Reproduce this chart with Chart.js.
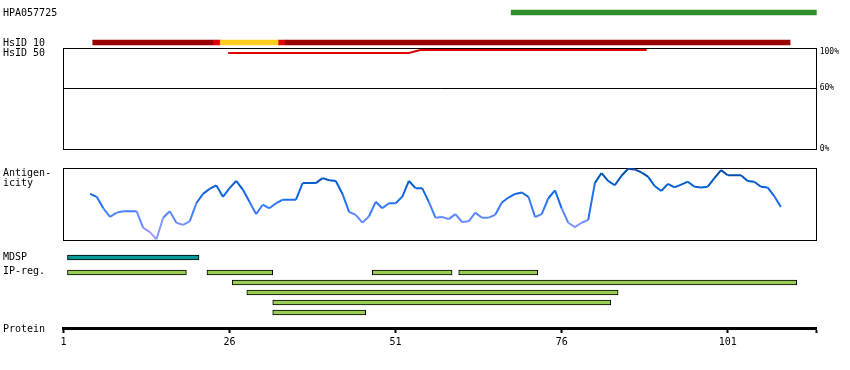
<!DOCTYPE html>
<html>
<head>
<meta charset="utf-8">
<title>HPA057725</title>
<script src="https://cdn.jsdelivr.net/npm/chart.js@4.4.1/dist/chart.umd.min.js"></script>
<style>
  html, body { margin: 0; padding: 0; background: #fff; }
  #wrap { position: relative; width: 850px; height: 370px; }
  #wrap canvas { position: absolute; left: 0; }
</style>
</head>
<body>
<div id="wrap">
  <canvas id="top" width="850" height="48" style="top:0px"></canvas>
  <canvas id="hsid50" width="850" height="118" style="top:40px"></canvas>
  <canvas id="antigen" width="850" height="90" style="top:160px"></canvas>
  <canvas id="mdsp" width="850" height="15" style="top:250px"></canvas>
  <canvas id="ipreg" width="850" height="55" style="top:265px"></canvas>
  <canvas id="protein" width="850" height="40" style="top:318px"></canvas>
</div>
<script>
// protein coordinate range and axis ticks
const xMin = 1, xMax = 114.4;
const axisTicks = [1, 26, 51, 76, 101];

// antibody target region
const hpaStart = [68.4];
const hpaEnd = [114.4];

// HsID 10 segments
const hsid10Start = [5.4, 23.6, 24.6, 33.4, 34.4];
const hsid10End = [23.6, 24.6, 33.4, 34.4, 110.4];
const hsid10Level = ['low', 'mid', 'high', 'mid', 'low'];

// HsID 50 identity line (%)
const hsid50X = [25.8, 53.0, 54.7, 88.8];
const hsid50Y = [95, 95, 98, 98];
const hsid50Ticks = [0, 60, 100];

// antigenicity score per residue, starting at residue 5
const antigenFirst = 5;
const antigenicity = [
  64, 60, 44, 32, 38, 40, 40, 40, 17, 11,
  1, 31, 40, 24, 21, 26, 51, 64, 71, 76,
  60, 72, 82, 70, 53, 36, 49, 44, 51, 56,
  56, 56, 79, 79, 79, 86, 83, 82, 64, 39,
  35, 24, 33, 53, 44, 51, 51, 60, 82, 72,
  72, 53, 31, 32, 29, 36, 25, 26, 38, 31,
  31, 35, 52, 59, 64, 66, 60, 32, 36, 58,
  69, 44, 24, 18, 24, 28, 79, 93, 82, 76,
  89, 99, 98, 94, 88, 75, 68, 78, 73, 77,
  81, 74, 73, 74, 86, 97, 90, 90, 90, 82,
  81, 74, 73, 61, 46
];

// MDSP region
const mdspStart = [1.6];
const mdspEnd = [21.4];

// IP-reg. regions
const ipStart = [1.6, 22.6, 47.5, 60.5, 26.4, 28.6, 32.5, 32.5];
const ipEnd = [19.5, 32.5, 59.5, 72.4, 111.4, 84.5, 83.4, 46.5];
const ipRow = [0, 0, 0, 0, 1, 2, 3, 4];

const levelColor = { low: '#990000', mid: '#e00000', high: '#ffcc22' };
const FONT = '"DejaVu Sans Mono"';

Chart.defaults.font.family = FONT;
Chart.defaults.font.size = 10;
Chart.defaults.color = '#000';

// frames behind the data, track names and % labels on top
const trackText = {
  id: 'trackText',
  beforeDatasetsDraw(chart, args, opts) {
    const ctx = chart.ctx, area = chart.chartArea;
    ctx.save();
    ctx.strokeStyle = '#000';
    ctx.lineWidth = 1;
    if (opts.box) {
      ctx.strokeRect(Math.floor(area.left) + 0.5, Math.floor(area.top) + 0.5,
        Math.round(area.right - area.left), Math.round(area.bottom - area.top));
    }
    (opts.hlines || []).forEach(v => {
      const y = Math.floor(chart.scales.y.getPixelForValue(v)) + 0.5;
      ctx.beginPath();
      ctx.moveTo(area.left, y);
      ctx.lineTo(area.right, y);
      ctx.stroke();
    });
    ctx.restore();
  },
  afterDraw(chart, args, opts) {
    const ctx = chart.ctx, area = chart.chartArea, top = chart.canvas.offsetTop;
    ctx.save();
    ctx.fillStyle = '#000';
    ctx.textAlign = 'left';
    ctx.font = '10px ' + FONT;
    ctx.textBaseline = 'alphabetic';
    (opts.labels || []).forEach(l => ctx.fillText(l[0], 3, l[1] - top));
    if (opts.rightTicks) {
      ctx.font = '8px ' + FONT;
      ctx.textBaseline = 'middle';
      opts.rightTicks.forEach(v => {
        const y = Math.max(chart.scales.y.getPixelForValue(v), area.top + 4);
        ctx.fillText(v + '%', area.right + 3, y);
      });
    }
    ctx.restore();
  }
};
Chart.register(trackText);

const base = {
  responsive: false,
  animation: false,
  events: [],
  plugins: { legend: { display: false }, tooltip: { enabled: false } }
};
const xScale = () => ({ type: 'linear', min: xMin, max: xMax, display: false });
const pad = (top, bottom) => ({ padding: { left: 63.5, right: 33.3, top, bottom } });

function antigenColor(v) {
  const stops = [[0, [176, 160, 255]], [30, [100, 138, 255]], [55, [30, 110, 240]], [80, [0, 92, 205]], [100, [0, 70, 155]]];
  for (let i = 1; i < stops.length; i++) {
    if (v <= stops[i][0]) {
      const [a, ca] = stops[i - 1], [b, cb] = stops[i];
      const t = (v - a) / (b - a);
      const c = ca.map((k, j) => Math.round(k + (cb[j] - k) * t));
      return `rgb(${c[0]},${c[1]},${c[2]})`;
    }
  }
  return 'rgb(0,70,155)';
}

// HPA057725 + HsID 10
const topRows = ['HPA057725', 'gap a', 'gap b', 'HsID 10'];
new Chart(document.getElementById('top'), {
  type: 'bar',
  data: {
    labels: topRows,
    datasets: [
      {
        data: hpaStart.map((s, i) => ({ x: [s, hpaEnd[i]], y: topRows[0] })),
        backgroundColor: '#2f8f2a', barThickness: 5, grouped: false
      },
      {
        data: hsid10Start.map((s, i) => ({ x: [s, hsid10End[i]], y: topRows[3] })),
        backgroundColor: ctx => levelColor[hsid10Level[ctx.dataIndex]],
        barThickness: 5, grouped: false
      }
    ]
  },
  options: {
    ...base,
    indexAxis: 'y',
    layout: pad(7.5, 0.5),
    scales: { x: xScale(), y: { display: false } },
    plugins: { ...base.plugins, trackText: { labels: [['HPA057725', 16], ['HsID 10', 46]] } }
  }
});

// HsID 50
new Chart(document.getElementById('hsid50'), {
  type: 'line',
  data: {
    datasets: [{
      data: hsid50X.map((x, i) => ({ x, y: hsid50Y[i] })),
      borderColor: '#e00000', borderWidth: 2, pointRadius: 0, tension: 0
    }]
  },
  options: {
    ...base,
    layout: pad(8, 9),
    scales: { x: xScale(), y: { display: false, min: 0, max: 100 } },
    plugins: {
      ...base.plugins,
      trackText: { labels: [['HsID 50', 56]], box: true, hlines: [60], rightTicks: hsid50Ticks }
    }
  }
});

// Antigenicity
new Chart(document.getElementById('antigen'), {
  type: 'line',
  data: {
    datasets: [{
      data: antigenicity.map((v, i) => ({ x: antigenFirst + i, y: v })),
      borderWidth: 2, pointRadius: 0, tension: 0,
      segment: { borderColor: ctx => antigenColor((ctx.p0.parsed.y + ctx.p1.parsed.y) / 2) }
    }]
  },
  options: {
    ...base,
    layout: pad(8, 10),
    scales: { x: xScale(), y: { display: false, min: 0, max: 100 } },
    plugins: {
      ...base.plugins,
      trackText: { labels: [['Antigen-', 176], ['icity', 186]], box: true }
    }
  }
});

// MDSP
new Chart(document.getElementById('mdsp'), {
  type: 'bar',
  data: {
    labels: ['MDSP'],
    datasets: [{
      data: mdspStart.map((s, i) => ({ x: [s, mdspEnd[i]], y: 'MDSP' })),
      backgroundColor: '#009999', borderColor: '#000', borderWidth: 1,
      borderSkipped: false, barThickness: 5
    }]
  },
  options: {
    ...base,
    indexAxis: 'y',
    layout: pad(0, 0),
    scales: { x: xScale(), y: { display: false } },
    plugins: { ...base.plugins, trackText: { labels: [['MDSP', 260.3]] } }
  }
});

// IP-reg.
const ipRowNames = ['r1', 'r2', 'r3', 'r4', 'r5'];
new Chart(document.getElementById('ipreg'), {
  type: 'bar',
  data: {
    labels: ipRowNames,
    datasets: [{
      data: ipStart.map((s, i) => ({ x: [s, ipEnd[i]], y: ipRowNames[ipRow[i]] })),
      backgroundColor: '#99cc55', borderColor: '#000', borderWidth: 1,
      borderSkipped: false, barThickness: 5
    }]
  },
  options: {
    ...base,
    indexAxis: 'y',
    layout: pad(2.5, 2.5),
    scales: { x: xScale(), y: { display: false } },
    plugins: { ...base.plugins, trackText: { labels: [['IP-reg.', 274.3]] } }
  }
});

// Protein axis
new Chart(document.getElementById('protein'), {
  type: 'line',
  data: { datasets: [] },
  options: {
    ...base,
    layout: pad(0, 0),
    scales: {
      x: {
        type: 'linear', min: xMin, max: xMax, position: 'bottom',
        border: { display: true, color: '#000', width: 3 },
        grid: { drawOnChartArea: false, drawTicks: true, tickLength: 5, tickWidth: 2, tickColor: '#000' },
        ticks: {
          autoSkip: false, maxRotation: 0, padding: 3, color: '#000',
          font: { family: FONT, size: 10 },
          callback: v => axisTicks.includes(v) ? String(v) : ''
        },
        afterBuildTicks: s => { s.ticks = axisTicks.concat([xMax]).map(v => ({ value: v })); },
        afterFit: s => { s.height = 30; }
      },
      y: { display: false, min: 0, max: 1 }
    },
    plugins: { ...base.plugins, trackText: { labels: [['Protein', 332.3]] } }
  }
});
</script>
</body>
</html>
